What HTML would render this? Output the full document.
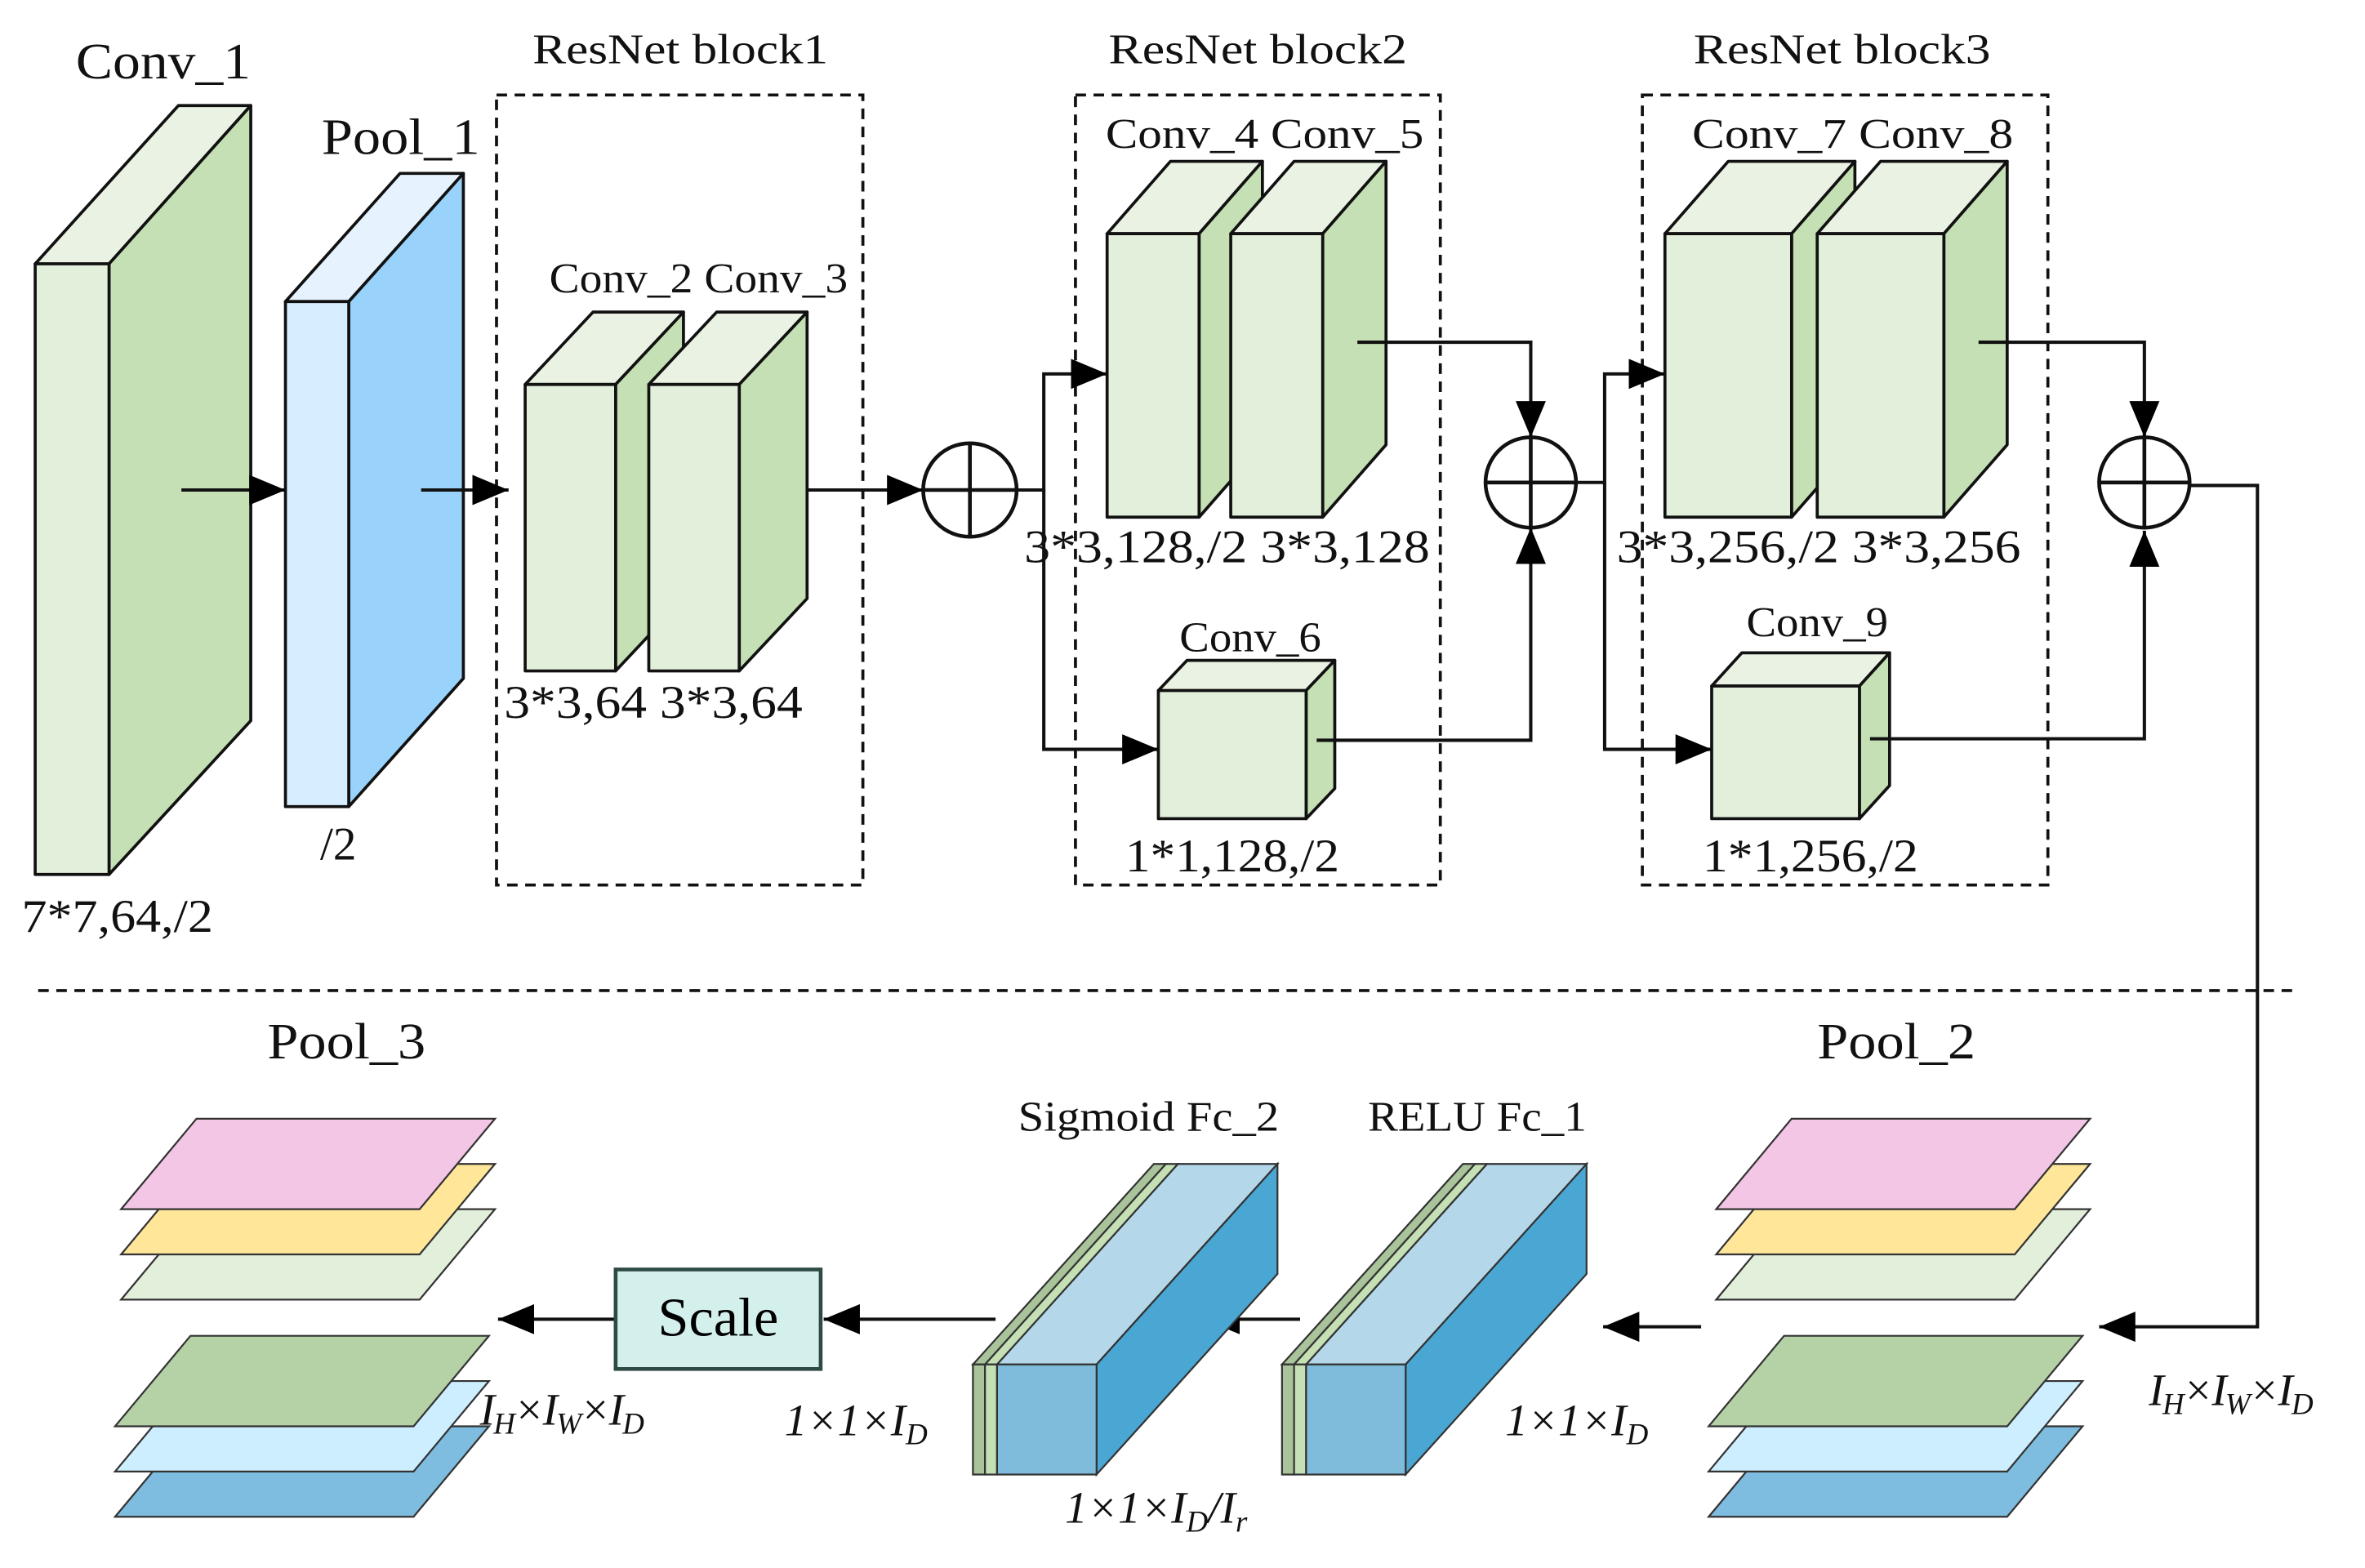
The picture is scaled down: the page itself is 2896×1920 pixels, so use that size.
<!DOCTYPE html>
<html><head><meta charset="utf-8"><style>html,body{margin:0;padding:0;background:#fff}svg{display:block}</style></head>
<body>
<svg width="2896" height="1920" viewBox="0 0 1568 1040" xmlns="http://www.w3.org/2000/svg" font-family="Liberation Serif, serif">
<defs>
<marker id="b" markerWidth="24" markerHeight="20" refX="24" refY="10" orient="auto" markerUnits="userSpaceOnUse"><path d="M0,0 L24,10 L0,20 z" fill="#000"/></marker></defs>
<g stroke="#111" stroke-width="2" stroke-linejoin="round">
<polygon points="23,175 72,175 166,70 118,70" fill="#eaf3e3"/>
<polygon points="72,175 166,70 166,478 72,580" fill="#c5e0b4"/>
<rect x="23" y="175" width="49" height="405" fill="#e2efda"/>
<polygon points="189,200 231,200 307,115 265,115" fill="#e6f3ff"/>
<polygon points="231,200 307,115 307,450 231,535" fill="#99d3fb"/>
<rect x="189" y="200" width="42" height="335" fill="#d6eeff"/>
<polygon points="348,255 408,255 453,207 393,207" fill="#eaf3e3"/>
<polygon points="408,255 453,207 453,397 408,445" fill="#c5e0b4"/>
<rect x="348" y="255" width="60" height="190" fill="#e2efda"/>
<polygon points="430,255 490,255 535,207 475,207" fill="#eaf3e3"/>
<polygon points="490,255 535,207 535,397 490,445" fill="#c5e0b4"/>
<rect x="430" y="255" width="60" height="190" fill="#e2efda"/>
<polygon points="734,155 795,155 837,107 776,107" fill="#eaf3e3"/>
<polygon points="795,155 837,107 837,295 795,343" fill="#c5e0b4"/>
<rect x="734" y="155" width="61" height="188" fill="#e2efda"/>
<polygon points="816,155 877,155 919,107 858,107" fill="#eaf3e3"/>
<polygon points="877,155 919,107 919,295 877,343" fill="#c5e0b4"/>
<rect x="816" y="155" width="61" height="188" fill="#e2efda"/>
<polygon points="768,458 866,458 885,438 787,438" fill="#eaf3e3"/>
<polygon points="866,458 885,438 885,523 866,543" fill="#c5e0b4"/>
<rect x="768" y="458" width="98" height="85" fill="#e2efda"/>
<polygon points="1104,155 1188,155 1230,107 1146,107" fill="#eaf3e3"/>
<polygon points="1188,155 1230,107 1230,295 1188,343" fill="#c5e0b4"/>
<rect x="1104" y="155" width="84" height="188" fill="#e2efda"/>
<polygon points="1205,155 1289,155 1331,107 1247,107" fill="#eaf3e3"/>
<polygon points="1289,155 1331,107 1331,295 1289,343" fill="#c5e0b4"/>
<rect x="1205" y="155" width="84" height="188" fill="#e2efda"/>
<polygon points="1135,455 1233,455 1253,433 1155,433" fill="#eaf3e3"/>
<polygon points="1233,455 1253,433 1253,521 1233,543" fill="#c5e0b4"/>
<rect x="1135" y="455" width="98" height="88" fill="#e2efda"/>
</g>
<g fill="none" stroke="#111" stroke-width="2" stroke-dasharray="7,5">
<rect x="329" y="63" width="243" height="524"/>
<rect x="713" y="63" width="242" height="524"/>
<rect x="1089" y="63" width="269" height="524"/>
<line x1="25" y1="657" x2="1525" y2="657"/>
</g>
<g fill="none" stroke="#111" stroke-width="2.5">
<circle cx="643" cy="325" r="31"/><line x1="612" y1="325" x2="674" y2="325"/><line x1="643" y1="294" x2="643" y2="356"/>
<circle cx="1015" cy="320" r="30"/><line x1="985" y1="320" x2="1045" y2="320"/><line x1="1015" y1="290" x2="1015" y2="350"/>
<circle cx="1422" cy="320" r="30"/><line x1="1392" y1="320" x2="1452" y2="320"/><line x1="1422" y1="290" x2="1422" y2="350"/>
</g>
<g fill="none" stroke="#111" stroke-width="2.2">
<line x1="120" y1="325" x2="189" y2="325" marker-end="url(#b)"/>
<line x1="279" y1="325" x2="337" y2="325" marker-end="url(#b)"/>
<line x1="535" y1="325" x2="612" y2="325" marker-end="url(#b)"/>
<polyline points="674,325 692,325 692,248 734,248" marker-end="url(#b)"/>
<polyline points="692,325 692,497 768,497" marker-end="url(#b)"/>
<polyline points="900,227 1015,227 1015,290" marker-end="url(#b)"/>
<polyline points="873,491 1015,491 1015,350" marker-end="url(#b)"/>
<polyline points="1045,320 1064,320 1064,248 1104,248" marker-end="url(#b)"/>
<polyline points="1064,320 1064,497 1135,497" marker-end="url(#b)"/>
<polyline points="1312,227 1422,227 1422,290" marker-end="url(#b)"/>
<polyline points="1240,490 1422,490 1422,352" marker-end="url(#b)"/>
<polyline points="1452,322 1497,322 1497,880 1392,880" marker-end="url(#b)"/>
<line x1="1128" y1="880" x2="1063" y2="880" marker-end="url(#b)"/>
<line x1="862" y1="875" x2="798" y2="875" marker-end="url(#b)"/>
<line x1="660" y1="875" x2="546" y2="875" marker-end="url(#b)"/>
<line x1="408" y1="875" x2="330" y2="875" marker-end="url(#b)"/>
</g>
<g stroke="#333" stroke-width="1.2">
<polygon points="1138,862 1188,802 1386,802 1336,862" fill="#e2efda"/>
<polygon points="1138,832 1188,772 1386,772 1336,832" fill="#ffe699"/>
<polygon points="1138,802 1188,742 1386,742 1336,802" fill="#f4c6e6"/>
<polygon points="1133,1006 1183,946 1381,946 1331,1006" fill="#7fbde0"/>
<polygon points="1133,976 1183,916 1381,916 1331,976" fill="#cdeeff"/>
<polygon points="1133,946 1183,886 1381,886 1331,946" fill="#b5d1a6"/>
<polygon points="80,862 130,802 328,802 278,862" fill="#e2efda"/>
<polygon points="80,832 130,772 328,772 278,832" fill="#ffe699"/>
<polygon points="80,802 130,742 328,742 278,802" fill="#f4c6e6"/>
<polygon points="76,1006 126,946 324,946 274,1006" fill="#7fbde0"/>
<polygon points="76,976 126,916 324,916 274,976" fill="#cdeeff"/>
<polygon points="76,946 126,886 324,886 274,946" fill="#b5d1a6"/>
</g>
<g stroke="#333" stroke-width="1.2">
<polygon points="850,905 858,905 978,772 970,772" fill="#a9c49a"/>
<rect x="850" y="905" width="8" height="73" fill="#a9c49a"/>
<polygon points="858,905 866,905 986,772 978,772" fill="#c5e0b4"/>
<rect x="858" y="905" width="8" height="73" fill="#c5e0b4"/>
<polygon points="866,905 932,905 1052,772 986,772" fill="#b4d8ea"/>
<polygon points="932,905 1052,772 1052,845 932,978" fill="#4aa6d3"/>
<rect x="866" y="905" width="66" height="73" fill="#7fbcdc"/>
<polygon points="645,905 653,905 773,772 765,772" fill="#a9c49a"/>
<rect x="645" y="905" width="8" height="73" fill="#a9c49a"/>
<polygon points="653,905 661,905 781,772 773,772" fill="#c5e0b4"/>
<rect x="653" y="905" width="8" height="73" fill="#c5e0b4"/>
<polygon points="661,905 727,905 847,772 781,772" fill="#b4d8ea"/>
<polygon points="727,905 847,772 847,845 727,978" fill="#4aa6d3"/>
<rect x="661" y="905" width="66" height="73" fill="#7fbcdc"/>
</g>
<rect x="408" y="842" width="136" height="66" fill="#d4f0ec" stroke="#2e4a44" stroke-width="2.5"/>
<text x="436" y="886" font-size="36" textLength="80" lengthAdjust="spacingAndGlyphs">Scale</text>
<g font-size="34" fill="#111" lengthAdjust="spacingAndGlyphs">
<text x="50" y="52" textLength="116" lengthAdjust="spacingAndGlyphs">Conv_1</text>
<text x="213" y="102" textLength="105" lengthAdjust="spacingAndGlyphs">Pool_1</text>
<text x="177" y="702" textLength="105" lengthAdjust="spacingAndGlyphs">Pool_3</text>
<text x="1205" y="702" textLength="105" lengthAdjust="spacingAndGlyphs">Pool_2</text>
</g>
<g font-size="28" fill="#111">
<text x="353" y="42" textLength="196" lengthAdjust="spacingAndGlyphs">ResNet block1</text>
<text x="735" y="42" textLength="198" lengthAdjust="spacingAndGlyphs">ResNet block2</text>
<text x="1123" y="42" textLength="197" lengthAdjust="spacingAndGlyphs">ResNet block3</text>
<text x="364" y="194" textLength="198" lengthAdjust="spacingAndGlyphs">Conv_2 Conv_3</text>
<text x="733" y="98" textLength="211" lengthAdjust="spacingAndGlyphs">Conv_4  Conv_5</text>
<text x="1122" y="98" textLength="213" lengthAdjust="spacingAndGlyphs">Conv_7  Conv_8</text>
<text x="782" y="432" textLength="94" lengthAdjust="spacingAndGlyphs">Conv_6</text>
<text x="1158" y="422" textLength="94" lengthAdjust="spacingAndGlyphs">Conv_9</text>
<text x="675" y="750" textLength="173" lengthAdjust="spacingAndGlyphs">Sigmoid Fc_2</text>
<text x="907" y="750" textLength="145" lengthAdjust="spacingAndGlyphs">RELU Fc_1</text>
</g>
<g font-size="31" fill="#111">
<text x="14" y="618" textLength="127" lengthAdjust="spacingAndGlyphs">7*7,64,/2</text>
<text x="212" y="570">/2</text>
<text x="334" y="476" textLength="198" lengthAdjust="spacingAndGlyphs">3*3,64 3*3,64</text>
<text x="679" y="373" textLength="269" lengthAdjust="spacingAndGlyphs">3*3,128,/2  3*3,128</text>
<text x="1072" y="373" textLength="268" lengthAdjust="spacingAndGlyphs">3*3,256,/2  3*3,256</text>
<text x="746" y="578" textLength="142" lengthAdjust="spacingAndGlyphs">1*1,128,/2</text>
<text x="1129" y="578" textLength="143" lengthAdjust="spacingAndGlyphs">1*1,256,/2</text>
</g>
<g font-size="30" font-style="italic" fill="#111">
<text x="1425" y="932" letter-spacing="-1">I<tspan font-size="20" dy="6">H</tspan><tspan dy="-6">×I</tspan><tspan font-size="20" dy="6">W</tspan><tspan dy="-6">×I</tspan><tspan font-size="20" dy="6">D</tspan></text>
<text x="318" y="945" letter-spacing="-1">I<tspan font-size="20" dy="6">H</tspan><tspan dy="-6">×I</tspan><tspan font-size="20" dy="6">W</tspan><tspan dy="-6">×I</tspan><tspan font-size="20" dy="6">D</tspan></text>
<text x="998" y="952">1×1×I<tspan font-size="20" dy="6">D</tspan></text>
<text x="520" y="952">1×1×I<tspan font-size="20" dy="6">D</tspan></text>
<text x="706" y="1010">1×1×I<tspan font-size="20" dy="6">D</tspan><tspan dy="-6">/I</tspan><tspan font-size="20" dy="6">r</tspan></text>
</g>
</svg>
</body></html>
